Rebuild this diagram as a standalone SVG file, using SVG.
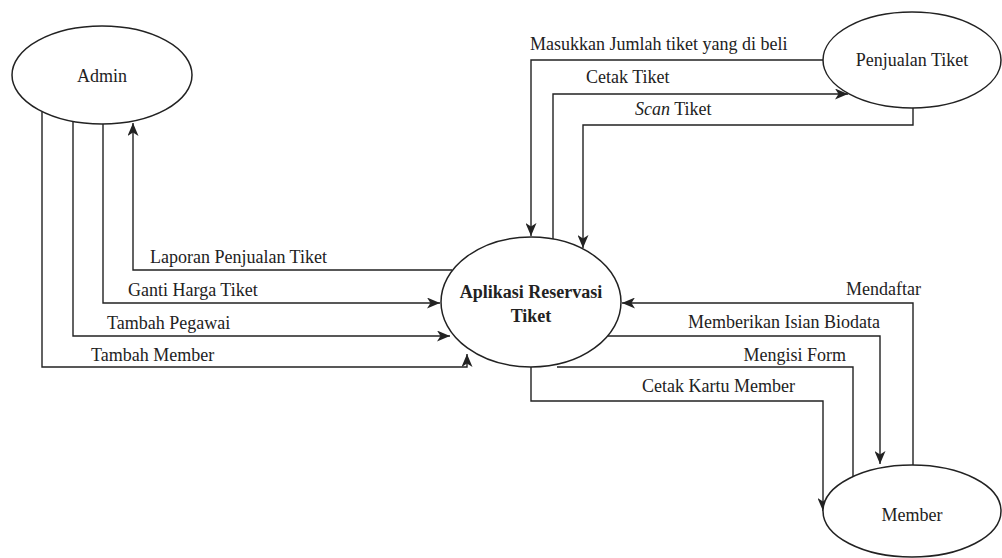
<svg xmlns="http://www.w3.org/2000/svg" width="1002" height="558" viewBox="0 0 1002 558">
<style>
.node{fill:#fff;stroke:#222;stroke-width:1.5}
.edge{fill:none;stroke:#222;stroke-width:1.4}
.arr{marker-end:url(#ah)}
</style>
<defs>
<marker id="ah" viewBox="0 0 13 11" refX="13" refY="5.5" markerWidth="13" markerHeight="11" markerUnits="userSpaceOnUse" orient="auto">
<path d="M0,0 L13,5.5 L0,11 L3.5,5.5 Z" fill="#222"/>
</marker>
</defs>
<rect width="1002" height="558" fill="#fff"/>
<g id="connectors">
<path class="edge arr" d="M452,270 H133 V123"/>
<path class="edge arr" d="M103,124 V303 H440"/>
<path class="edge arr" d="M73,121 V336 H450"/>
<path class="edge arr" d="M42,112 V367 H467 V354"/>
<path class="edge arr" d="M823,60 H531 V236"/>
<path class="edge arr" d="M553,239 V94 H848"/>
<path class="edge arr" d="M913,108 V125 H583 V248"/>
<path class="edge arr" d="M913,465 V303 H622"/>
<path class="edge arr" d="M608,336 H880 V464"/>
<path class="edge" d="M557,367 H853 V478"/>
<path class="edge arr" d="M531,367 V401 H823 V511"/>
</g>
<g id="labels" fill="#222">
<text x="150" y="263" font-family="Liberation Serif" font-size="18">Laporan Penjualan Tiket</text>
<text x="128" y="296" font-family="Liberation Serif" font-size="18">Ganti Harga Tiket</text>
<text x="107" y="329" font-family="Liberation Serif" font-size="18">Tambah Pegawai</text>
<text x="91" y="361" font-family="Liberation Serif" font-size="18">Tambah Member</text>
<text x="530" y="50" font-family="Liberation Serif" font-size="18">Masukkan Jumlah tiket yang di beli</text>
<text x="586" y="83" font-family="Liberation Serif" font-size="18">Cetak Tiket</text>
<text x="635" y="115" font-family="Liberation Serif" font-size="18"><tspan font-style="italic">Scan</tspan> Tiket</text>
<text x="921" y="295" text-anchor="end" font-family="Liberation Serif" font-size="18">Mendaftar</text>
<text x="880" y="328" text-anchor="end" font-family="Liberation Serif" font-size="18">Memberikan Isian Biodata</text>
<text x="846" y="361" text-anchor="end" font-family="Liberation Serif" font-size="18">Mengisi Form</text>
<text x="795" y="392" text-anchor="end" font-family="Liberation Serif" font-size="18">Cetak Kartu Member</text>
</g>
<g id="admin" fill="#222">
<ellipse class="node" cx="102" cy="75" rx="90" ry="49"/>
<text x="102" y="82" text-anchor="middle" font-family="Liberation Serif" font-size="18">Admin</text>
</g>
<g id="aplikasi" fill="#222">
<ellipse class="node" cx="531" cy="302" rx="90" ry="65"/>
<text x="531" y="298" text-anchor="middle" font-family="Liberation Serif" font-size="18" font-weight="bold">Aplikasi Reservasi</text>
<text x="531" y="322" text-anchor="middle" font-family="Liberation Serif" font-size="18" font-weight="bold">Tiket</text>
</g>
<g id="penjualan" fill="#222">
<ellipse class="node" cx="912" cy="60" rx="89" ry="48"/>
<text x="912" y="66" text-anchor="middle" font-family="Liberation Serif" font-size="18">Penjualan Tiket</text>
</g>
<g id="member" fill="#222">
<ellipse class="node" cx="912" cy="511" rx="89" ry="46"/>
<text x="912" y="521" text-anchor="middle" font-family="Liberation Serif" font-size="18">Member</text>
</g>
</svg>
